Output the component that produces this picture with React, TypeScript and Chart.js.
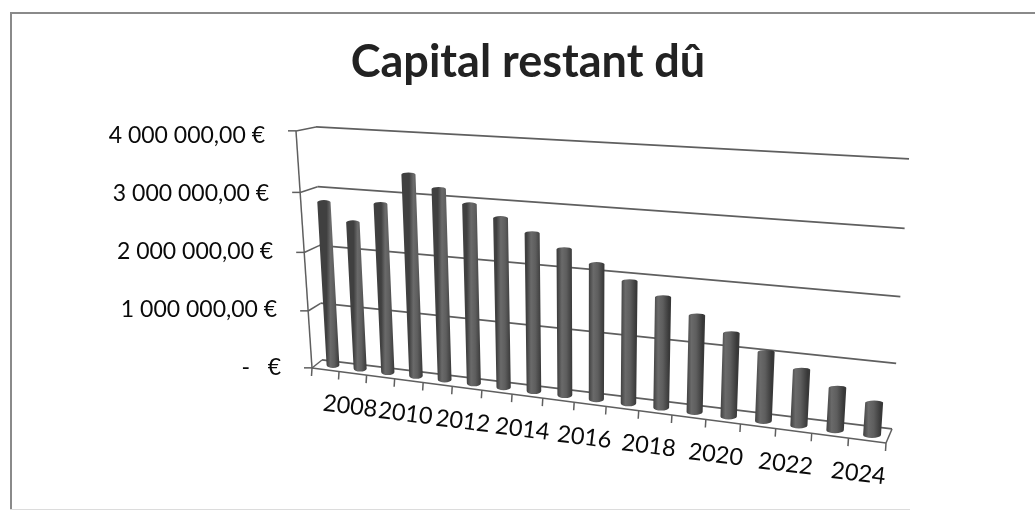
import React, { useEffect, useRef } from "react";
import { Chart, registerables } from "chart.js";

Chart.register(...registerables);

const years = ["2007","2008","2009","2010","2011","2012","2013","2014","2015","2016","2017","2018","2019","2020","2021","2022","2023","2024"];
const capital = [2840000,2540000,2880000,3390000,3190000,2980000,2800000,2600000,2390000,2200000,1980000,1780000,1550000,1330000,1100000,890000,680000,520000];
const shownYears = ["2008","2010","2012","2014","2016","2018","2020","2022","2024"];
const title = "Capital restant dû";

type P = [number, number];
// projective map of the unit square onto a quad (u,v) -> picture, for the 3D look
function homography(p0: P, p1: P, p2: P, p3: P) {
  const [x0,y0]=p0,[x1,y1]=p1,[x2,y2]=p2,[x3,y3]=p3;
  const dx1=x1-x2,dx2=x3-x2,sx=x0-x1+x2-x3,dy1=y1-y2,dy2=y3-y2,sy=y0-y1+y2-y3;
  const den=dx1*dy2-dx2*dy1;
  const g=(sx*dy2-dx2*sy)/den,h=(dx1*sy-sx*dy1)/den;
  const a=x1-x0+g*x1,b=x3-x0+h*x3,d=y1-y0+g*y1,e=y3-y0+h*y3;
  return (u:number,v:number):P=>{const w=g*u+h*v+1;return [(a*u+b*v+x0)/w,(d*u+e*v+y0)/w];};
}
const backWall = homography([322,360],[892,429],[909,159],[316,127]);
const barPlane = homography([333,365],[872,435],[889.5,160],[320,130]);
const frontWall = homography([312,368],[886,443],[903,163],[296,131]);

const LINE = "#5f5f5f";

const projection = {
  id: "projection",
  afterDatasetsUpdate(chart:any){
    const ys=chart.scales.y, meta=chart.getDatasetMeta(0);
    const n=years.length;
    meta.data.forEach((el:any,i:number)=>{
      const u=i/(n-1);
      const v=(ys.bottom-ys.getPixelForValue(chart.data.datasets[0].data[i]))/(ys.bottom-ys.top);
      const du=0.014;
      const tl=barPlane(u-du,v),tr=barPlane(u+du,v),bl=barPlane(u-du,0),br=barPlane(u+du,0);
      const t=barPlane(u,v),b=barPlane(u,0);
      el.x=b[0];el.y=t[1];el.base=b[1];el.width=br[0]-bl[0];
      el.draw=(ctx:CanvasRenderingContext2D)=>{
        const g=ctx.createLinearGradient(bl[0],0,br[0],0);
        g.addColorStop(0,"#404040");g.addColorStop(0.3,"#6a6a6a");g.addColorStop(0.6,"#5e5e5e");g.addColorStop(1,"#383838");
        const rxT=(tr[0]-tl[0])/2,rxB=(br[0]-bl[0])/2;
        ctx.save();ctx.fillStyle=g;ctx.beginPath();
        ctx.ellipse(t[0],t[1]+1.5,rxT,2,0,Math.PI,2*Math.PI);
        ctx.lineTo(br[0],br[1]);
        ctx.ellipse(b[0],b[1],rxB,3,0,0,Math.PI);
        ctx.closePath();ctx.fill();ctx.restore();
      };
    });
  },
  beforeDraw(chart:any){
    const xs=chart.scales.x, ys=chart.scales.y;
    const area=chart.chartArea;
    const h=ys.bottom-ys.top;
    // horizontal gridlines run along the back wall
    ys._gridLineItems=ys._computeGridLineItems(area).map((it:any)=>{
      const v=(ys.bottom-it.y1)/h;
      const a=backWall(0,v),b=backWall(1,v),f=frontWall(0,v);
      return {...it,x1:a[0],y1:a[1],x2:b[0],y2:b[1],tx1:f[0]-8,ty1:f[1],tx2:f[0],ty2:f[1]};
    });
    ys._labelItems=ys._computeLabelItems(area).map((it:any)=>{
      const py=it.options.translation[1];
      const f=frontWall(0,(ys.bottom-py)/h);
      return {...it,options:{...it.options,textAlign:"right",textBaseline:"middle",translation:[f[0]-31,py]}};
    });
    // category ticks sit on the front edge of the floor
    const n=xs.ticks.length;
    xs._gridLineItems=xs._computeGridLineItems(area).map((it:any,i:number)=>{
      const f=frontWall(i/n,0);
      return {...it,tx1:f[0],ty1:f[1],tx2:f[0]-0.5,ty2:f[1]+8,x1:f[0],y1:f[1],x2:f[0],y2:f[1]};
    });
    xs._labelItems=xs._computeLabelItems(area).map((it:any)=>{
      const idx=years.indexOf(String(it.label));
      const u=(idx+0.5)/n;
      const f=frontWall(u,0);
      return {...it,textOffset:0,options:{...it.options,rotation:7*Math.PI/180,textAlign:"center",textBaseline:"middle",
        translation:[f[0]-2-7*u,f[1]+33]}};
    });
  },
  beforeDatasetsDraw(chart:any){
    const ys=chart.scales.y;
    const ctx=chart.ctx;
    ctx.save();ctx.strokeStyle=LINE;ctx.lineWidth=1.5;
    const seg=(a:P,b:P)=>{ctx.beginPath();ctx.moveTo(a[0],a[1]);ctx.lineTo(b[0],b[1]);ctx.stroke();};
    seg(frontWall(0,0),frontWall(0,1));
    seg(frontWall(0,0),frontWall(1,0));
    seg(frontWall(1,0),backWall(1,0));
    ys.ticks.forEach((t:any)=>{
      const v=t.value/ys.max;
      seg(frontWall(0,v),backWall(0,v));
    });
    ctx.restore();
  },
};

const App = () => {
  const ref = useRef<HTMLCanvasElement>(null);
  useEffect(() => {
    const chart = new Chart(ref.current!, {
      type: "bar",
      data: { labels: years, datasets: [{ label: "Capital restant dû", data: capital, backgroundColor: "#555", clip: false as any }] },
      plugins: [projection as any],
      options: {
        responsive: false,
        animation: false,
        layout: { padding: { left: 21, right: 0, top: 0, bottom: 0 } },
        plugins: {
          legend: { display: false },
          tooltip: { enabled: false },
          title: { display: true, text: title, color: "#222", padding: { top: 35, bottom: 47 }, font: { family: "Lato", size: 45, weight: "bold" } },
        },
        scales: {
          x: {
            border: { display: false },
            grid: { color: LINE, tickColor: LINE, tickWidth: 1.5, lineWidth: 1.5, drawOnChartArea: false, offset: true },
            afterFit: (s: any) => { s.height = 143; },
            ticks: {
              autoSkip: false, maxRotation: 0, minRotation: 0, color: "#0a0a0a",
              font: { family: "Lato", size: 23.5 },
              callback: (_v: any, i: number) => (shownYears.includes(years[i]) ? years[i] : ""),
            },
          },
          y: {
            min: 0, max: 4000000,
            border: { display: false },
            grid: { color: LINE, tickColor: LINE, tickWidth: 1.5, lineWidth: 1.7 },
            afterFit: (s: any) => { s.width = 270; },
            ticks: {
              stepSize: 1000000, color: "#0a0a0a",
              font: { family: "Lato", size: 23 },
              callback: (v: any) => v === 0 ? "-   €" : String(v).replace(/\B(?=(\d{3})+$)/g, " ") + ",00 €",
            },
          },
        },
      },
    } as any);
    return () => chart.destroy();
  }, []);
  return (
    <div style={{ position: "absolute", left: 0, top: 0, width: 1035, height: 511, background: "#fff" }}>
      <div style={{ position: "absolute", left: 10, top: 12, width: 1025, height: 1.5, background: "#8a8a8a" }} />
      <div style={{ position: "absolute", left: 10, top: 12, width: 1.5, height: 498, background: "#8a8a8a" }} />
      <div style={{ position: "absolute", left: 10, top: 509, width: 900, height: 1, background: "#dcdcdc" }} />
      <canvas ref={ref} width={1035} height={511} style={{ position: "absolute", left: 0, top: 0, filter: "blur(0.4px)" }} />
    </div>
  );
};

export default App;
